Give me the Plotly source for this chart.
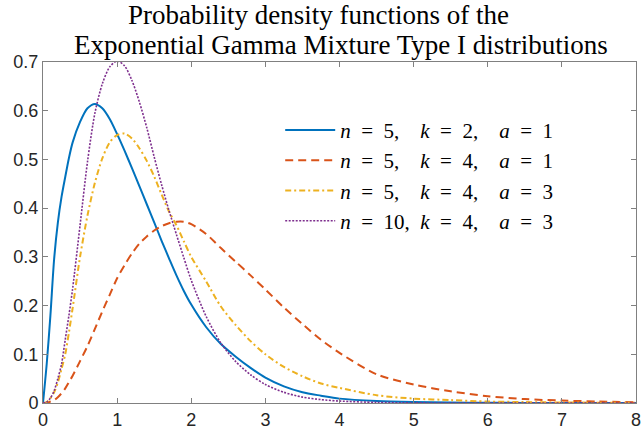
import plotly.graph_objects as go

x_vals = [0, 0.05, 0.1, 0.15, 0.2, 0.25, 0.3, 0.35, 0.4, 0.5, 0.6, 0.7, 0.8, 0.9,
          1.0, 1.1, 1.2, 1.3, 1.4, 1.5, 1.6, 1.7, 1.8, 1.9, 2.0, 2.2, 2.4, 2.6, 2.8,
          3.0, 3.25, 3.5, 3.75, 4.0, 4.5, 5.0, 5.5, 6.0, 6.5, 7.0, 7.5, 8.0]

# n=5, k=2, a=1
pdf_blue = [0, 0.08, 0.18, 0.295, 0.37, 0.423, 0.464, 0.503, 0.535, 0.577, 0.605, 0.614,
            0.605, 0.583, 0.552, 0.518, 0.482, 0.445, 0.408, 0.371, 0.333, 0.297, 0.262,
            0.23, 0.202, 0.156, 0.121, 0.095, 0.072, 0.052, 0.034, 0.022, 0.015, 0.009,
            0.004, 0.002, 0.001, 0.0005, 0.0002, 0.0001, 0, 0]

# n=5, k=4, a=1
pdf_red = [0, 0.0005, 0.003, 0.006, 0.012, 0.02, 0.03, 0.043, 0.056, 0.086, 0.117, 0.152,
           0.188, 0.222, 0.256, 0.283, 0.307, 0.327, 0.342, 0.354, 0.363, 0.369, 0.372,
           0.372, 0.367, 0.347, 0.318, 0.29, 0.262, 0.233, 0.196, 0.162, 0.13, 0.103,
           0.059, 0.038, 0.024, 0.014, 0.008, 0.005, 0.003, 0.0015]

# n=5, k=4, a=3
pdf_yellow = [0, 0.002, 0.01, 0.022, 0.042, 0.07, 0.1, 0.145, 0.195, 0.3, 0.385, 0.452,
              0.502, 0.535, 0.55, 0.553, 0.543, 0.523, 0.497, 0.465, 0.428, 0.393, 0.365,
              0.332, 0.3, 0.25, 0.198, 0.16, 0.127, 0.1, 0.074, 0.055, 0.04, 0.031,
              0.016, 0.009, 0.006, 0.003, 0.002, 0.001, 0.0007, 0.0005]

# n=10, k=4, a=3
pdf_purple = [0, 0.002, 0.01, 0.025, 0.05, 0.08, 0.13, 0.18, 0.235, 0.365, 0.495, 0.595,
              0.655, 0.69, 0.702, 0.692, 0.662, 0.618, 0.565, 0.505, 0.448, 0.395, 0.346,
              0.298, 0.252, 0.178, 0.123, 0.085, 0.058, 0.038, 0.022, 0.012, 0.007, 0.004,
              0.0012, 0.0003, 0, 0, 0, 0, 0, 0]

E = "\u2002"   # en space
M = "\u2003"   # em space
labels = [
    f"<i>n</i>{E}={E}5,{M}<i>k</i>{E}={E}2,{M}<i>a</i>{E}={E}1",
    f"<i>n</i>{E}={E}5,{M}<i>k</i>{E}={E}4,{M}<i>a</i>{E}={E}1",
    f"<i>n</i>{E}={E}5,{M}<i>k</i>{E}={E}4,{M}<i>a</i>{E}={E}3",
    f"<i>n</i>{E}={E}10,{E}<i>k</i>{E}={E}4,{M}<i>a</i>{E}={E}3",
]
series = [pdf_blue, pdf_red, pdf_yellow, pdf_purple]
colors = ["#0072BD", "#D95319", "#EDB120", "#7E2F8E"]
dashes = ["solid", "8px,5px", "6px,3px,2px,3px", "2px,1.5px"]
widths = [2, 2, 2, 1.6]

title_lines = ["Probability density functions of the",
               "Exponential Gamma Mixture Type I distributions"]

fig = go.Figure()
for y, name, c, d, w in zip(series, labels, colors, dashes, widths):
    fig.add_trace(go.Scatter(x=x_vals, y=y, mode="lines", name=name,
                             line=dict(color=c, dash=d, width=w, shape="spline", smoothing=0.8)))

axis_common = dict(showline=True, linecolor="#808080", linewidth=1, mirror="ticks",
                   ticks="inside", ticklen=5, tickcolor="#808080", showgrid=False,
                   zeroline=False, ticklabeloverflow="allow",
                   tickfont=dict(family="Liberation Sans", size=18, color="#262626"))

title_font = dict(family="Liberation Serif", size=27, color="black")
fig.add_annotation(text=title_lines[0], xref="paper", yref="paper", x=0.465, y=1.139,
                   xanchor="center", yanchor="middle", showarrow=False, font=title_font)
fig.add_annotation(text=title_lines[1], xref="paper", yref="paper", x=0.502, y=1.051,
                   xanchor="center", yanchor="middle", showarrow=False, font=title_font)

fig.update_layout(
    width=643, height=433, autosize=False,
    margin=dict(l=43, r=2, t=62, b=30),
    plot_bgcolor="white", paper_bgcolor="white",
    xaxis=dict(range=[0, 8], dtick=1, **axis_common),
    yaxis=dict(range=[0, 0.7], dtick=0.1, **axis_common),
    legend=dict(x=0.40, y=0.86, xanchor="left", yanchor="top", bgcolor="rgba(0,0,0,0)",
                itemwidth=50,
                font=dict(family="Liberation Serif", size=21, color="black")),
    showlegend=True,
)

fig.write_html("out.html", config={"displayModeBar": False},
               post_script="document.body.style.margin='0px';")
